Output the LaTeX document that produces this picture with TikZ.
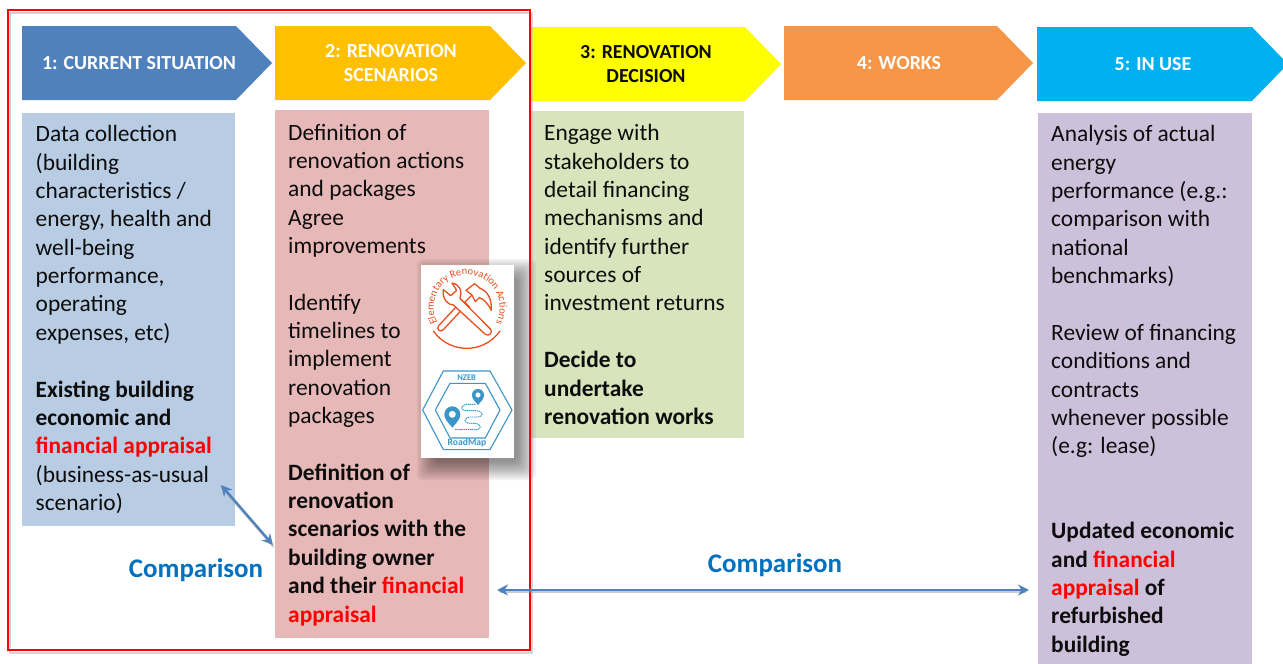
\documentclass[tikz,border=0pt]{standalone}
\usepackage{fontspec}
\setmainfont{Carlito}
\usetikzlibrary{arrows.meta,decorations.text,calc}
\definecolor{aone}{HTML}{4F81BD}
\definecolor{atwo}{HTML}{FFC000}
\definecolor{athree}{HTML}{FFFF00}
\definecolor{afour}{HTML}{F79646}
\definecolor{afive}{HTML}{00B0F0}
\definecolor{bone}{HTML}{B8CCE4}
\definecolor{btwo}{HTML}{E6B8B7}
\definecolor{bthree}{HTML}{D8E4BC}
\definecolor{bfive}{HTML}{CCC0DA}
\definecolor{cmp}{HTML}{0070C0}
\definecolor{ink}{HTML}{0D0D0D}
\definecolor{ero}{HTML}{E8501E}
\definecolor{nz}{HTML}{3A96C8}
\newcommand{\rd}[1]{\textcolor{red}{#1}}
\tikzset{
  x=1pt,y=-1pt,
  body/.style={anchor=north west,inner sep=0pt,align=left,text=ink,font=\fontsize{23.4}{28.35}\selectfont},
  head/.style={inner sep=0pt,align=center,font=\fontsize{19.9}{24.5}\selectfont\bfseries},
  cmplabel/.style={inner sep=0pt,text=cmp,font=\fontsize{26.9}{30}\selectfont\bfseries},
  link/.style={draw=aone,line width=2.4pt,{Stealth[length=11pt,width=11pt]}-{Stealth[length=11pt,width=11pt]}},
  tool/.style={draw=ero,line width=1.3pt,line join=round,line cap=round},
  hexline/.style={draw=nz,line width=1.1pt,line join=miter},
}
\begin{document}
\begin{tikzpicture}
\useasboundingbox (0,0) rectangle (1283,664);
\fill[white] (0,0) rectangle (1283,664);
% arrows
\fill[aone] (22,26)--(236,26)--(272,63)--(236,100)--(22,100)--cycle;
\fill[atwo] (275,26)--(490,26)--(526,63)--(490,100)--(275,100)--cycle;
\fill[athree] (531,27)--(745,27)--(781,64)--(745,101)--(531,101)--cycle;
\fill[afour] (784,26)--(997,26)--(1033,63)--(997,100)--(784,100)--cycle;
\fill[afive] (1037,27)--(1252,27)--(1283,59)--(1283,69)--(1252,101)--(1037,101)--cycle;
\node[head,text=white] (h1) at (139,63) {1: CURRENT SITUATION};
\node[head,text=white] (h2) at (391,63) {2: RENOVATION\\SCENARIOS};
\node[head,text=ink] (h3) at (646,64) {3: RENOVATION\\DECISION};
\node[head,text=white] (h4) at (899,63) {4: WORKS};
\node[head,text=white] (h5) at (1153,64) {5: IN USE};
% panels
\fill[bone] (22,113) rectangle (235,526);
\fill[btwo] (275,110) rectangle (489,638);
\fill[bthree] (531,111) rectangle (744,438);
\fill[bfive] (1038,113) rectangle (1252,664);
\node[body] (t1) at (35.5,125.4) {Data collection\\(building\\characteristics /\\energy, health and\\well-being\\performance,\\operating\\expenses, etc)\\[28.35pt]\textbf{Existing building}\\\textbf{economic and}\\\textbf{\rd{financial appraisal}}\\(business-as-usual\\scenario)};
\node[body] (t2) at (288,123.7) {Definition of\\renovation actions\\and packages\\Agree\\improvements\\[28.35pt]Identify\\timelines to\\implement\\renovation\\packages\\[28.35pt]\textbf{Definition of}\\\textbf{renovation}\\\textbf{scenarios with the}\\\textbf{building owner}\\\textbf{and their \rd{financial}}\\\textbf{\rd{appraisal}}};
\node[body] (t3) at (544,124.4) {Engage with\\stakeholders to\\detail financing\\mechanisms and\\identify further\\sources of\\investment returns\\[28.35pt]\textbf{Decide to}\\\textbf{undertake}\\\textbf{renovation works}};
\node[body] (t5) at (1051,125.4) {Analysis of actual\\energy\\performance (e.g.:\\comparison with\\national\\benchmarks)\\[28.35pt]Review of financing\\conditions and\\contracts\\whenever possible\\(e.g: lease)\\[56.7pt]\textbf{Updated economic}\\\textbf{and \rd{financial}}\\\textbf{\rd{appraisal} of}\\\textbf{refurbished}\\\textbf{building}};
% picture shadow
\foreach \d in {14,12,...,-4}{
  \fill[black,opacity=0.05,rounded corners=6pt] ({421-\d+10},{265-\d+8}) rectangle ({514+\d+8},{458+\d+8});
}
% icon card
\fill[white] (421,265) rectangle (514,458);
\begin{scope}[shift={(410,255)},x=0.3333pt,y=-0.3333pt]
  % arc under text
  \draw[tool] (70,228) arc[start angle=215,end angle=325,radius=40.7pt];
  \path[postaction={decorate,decoration={text along path,text align=center,
     text={|\fontsize{10.6}{11}\selectfont\color{ero}|Elementary Renovation Actions}}}]
     (89,215) arc[start angle=215,end angle=-35,radius=33pt];
  % wrench
  \draw[tool] (130,150)--(226,238) .. controls (238,246) and (250,232) .. (241,222)--(150,130)
     .. controls (158,110) and (150,88) .. (126,84)--(140,106)--(122,122)--(100,104)
     .. controls (96,130) and (112,150) .. (130,150)--cycle;
  % hammer
  \draw[tool] (152,168)--(100,224) .. controls (90,234) and (78,222) .. (86,212)--(138,156);
  \draw[tool] (164,142)--(186,120)--(168,106)--(194,86)--(210,100) .. controls (232,108) and (246,130) .. (244,166)
     .. controls (232,144) and (222,132) .. (208,128)--(196,140)--(186,120);
  \draw[tool] (164,142)--(178,156);
  % hexagons
  \draw[hexline] (100,348)--(240,348)--(306,465)--(240,584)--(100,584)--(38,465)--cycle;
  \draw[hexline] (120,385)--(226,385)--(270,465)--(226,549)--(120,549)--(76,465)--cycle;
  \fill[white] (108,355) rectangle (232,382);
  \fill[white] (108,552) rectangle (232,578);
  \node[inner sep=0pt,text=nz,font=\fontsize{8.6}{9}\selectfont\bfseries] (nzeb) at (170,368) {NZEB};
  \node[inner sep=0pt,text=nz,font=\fontsize{9.6}{10}\selectfont\bfseries] (rdmap) at (171,565) {RoadMap};
  % route
  \draw[nz,line width=.9pt,dash pattern=on 1.4pt off .7pt] (196,448) -- (170,448)
     .. controls (150,452) and (150,466) .. (170,467) -- (200,467)
     .. controls (222,470) and (222,486) .. (200,486) -- (180,486)
     .. controls (160,490) and (160,504) .. (180,505) -- (196,505)
     .. controls (216,508) and (216,524) .. (196,524) -- (134,524);
  % pins
  \fill[nz,even odd rule] (127,518) .. controls (112,500) and (103,492) .. (103,478)
     arc[start angle=180,end angle=0,radius=8pt] .. controls (151,492) and (142,500) .. (127,518) -- cycle
     (127,478) circle[radius=3.6pt];
  \fill[nz,even odd rule] (204,450) .. controls (194,438) and (186,432) .. (186,420)
     arc[start angle=180,end angle=0,radius=6pt] .. controls (222,432) and (214,438) .. (204,450) -- cycle
     (204,420) circle[radius=2.7pt];
\end{scope}
% red frame
\draw[black!30,opacity=.5,line width=2pt] (10,12.5) rectangle (532,652.5);
\draw[red,line width=2.6pt] (8,10) rectangle (530,650);
\draw[black!25,opacity=.5,line width=1pt] (10.5,12.5) -- (527.5,12.5);
\draw[black!25,opacity=.5,line width=1pt] (10.5,12.5) -- (10.5,647.5);
% comparison
\node[cmplabel] (c1) at (196,570) {Comparison};
\node[cmplabel] (c2) at (775,565) {Comparison};
\coordinate (a1) at (221,485);
\coordinate (a2) at (273,545);
\coordinate (b1) at (497,590);
\coordinate (b2) at (1029,590);
\draw[black!40,opacity=.5,line width=2pt] (221.5,487)--(273.5,547);
\draw[black!40,opacity=.5,line width=2pt] (500,592)--(1026,592);
\draw[link] (a1) -- (a2);
\draw[link] (b1) -- (b2);
\end{tikzpicture}
\end{document}
